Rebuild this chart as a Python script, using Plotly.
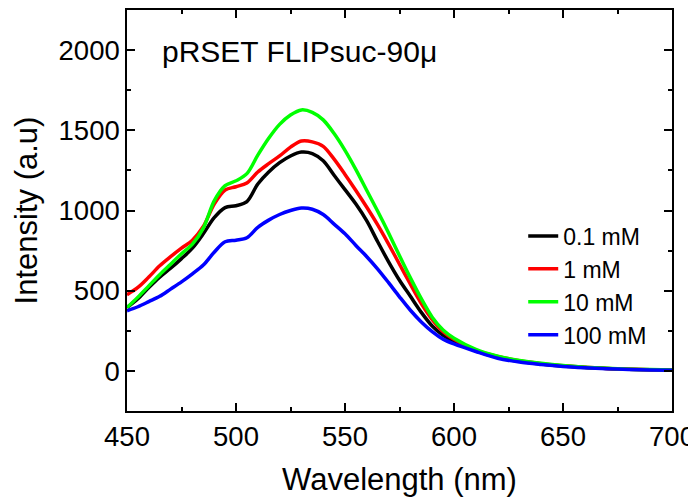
import plotly.graph_objects as go

wavelength = [450, 455, 460, 465, 470, 475, 480, 485, 490, 495, 500, 505, 510, 515, 520, 525, 530,
              535, 540, 545, 550, 555, 560, 565, 570, 575, 580, 585, 590, 595, 600,
              610, 620, 630, 640, 650, 660, 670, 680, 690, 700]

i_01mM = [395, 450, 520, 585, 640, 700, 765, 855, 955, 1018, 1030, 1055, 1165, 1240, 1298, 1340, 1364,
          1355, 1310, 1220, 1130, 1040, 935, 805, 680, 565, 465, 365, 280, 222, 183,
          125, 85, 60, 43, 30, 21, 15, 10, 7, 5]
i_1mM = [475, 520, 585, 655, 712, 765, 815, 900, 1040, 1128, 1148, 1172, 1240, 1292, 1340, 1395, 1433,
         1428, 1400, 1320, 1225, 1125, 1020, 910, 790, 665, 540, 420, 320, 245, 198,
         130, 90, 63, 45, 32, 22, 15, 10, 7, 5]
i_10mM = [395, 460, 530, 600, 665, 730, 790, 890, 1060, 1155, 1185, 1230, 1345, 1450, 1537, 1595, 1627,
          1612, 1565, 1480, 1375, 1255, 1125, 995, 860, 718, 580, 450, 335, 255, 204,
          135, 92, 65, 47, 33, 23, 16, 11, 8, 5]
i_100mM = [375, 400, 432, 465, 510, 555, 605, 660, 740, 805, 815, 830, 895, 940, 975, 1000, 1015,
           1008, 975, 915, 855, 782, 712, 635, 550, 462, 378, 305, 245, 198, 168,
           121, 79, 55, 40, 28, 20, 14, 9, 6, 4]

series_names = ["0.1 mM", "1 mM", "10 mM", "100 mM"]
series_values = [i_01mM, i_1mM, i_10mM, i_100mM]
series_colors = ["#000000", "#ff0000", "#00ff00", "#0000ff"]

title_text = "pRSET FLIPsuc-90μ"
x_ticks = [450, 500, 550, 600, 650, 700]
y_ticks = [0, 500, 1000, 1500, 2000]

fig = go.Figure()
for name, vals, col in zip(series_names, series_values, series_colors):
    fig.add_trace(go.Scatter(x=wavelength, y=vals, mode="lines", name=name,
                             line=dict(color=col, width=3.5, shape="spline", smoothing=0.9)))

font_family = "Liberation Sans, Arial, sans-serif"
axis_common = dict(showline=True, linecolor="black", linewidth=1.5, mirror="ticks",
                   ticks="inside", ticklen=8, tickwidth=1.5, tickcolor="black",
                   showgrid=False, zeroline=False, ticklabeloverflow="allow", automargin=False,
                   tickfont=dict(family=font_family, size=27.5, color="black"))

fig.update_layout(
    width=688, height=502,
    margin=dict(l=127, r=16, t=10, b=91, autoexpand=False),
    paper_bgcolor="white", plot_bgcolor="white",
    font=dict(family=font_family, color="black"),
    showlegend=True,
    legend=dict(x=0.727, y=0.49, xanchor="left", yanchor="top",
                font=dict(family=font_family, size=23, color="black"),
                bgcolor="rgba(0,0,0,0)", tracegroupgap=0),
    xaxis=dict(range=[450, 700], tickvals=x_ticks,
               minor=dict(ticks="inside", ticklen=4, tickwidth=1.5, tickcolor="black", dtick=25),
               title=dict(text="Wavelength (nm)", font=dict(family=font_family, size=31), standoff=18),
               **axis_common),
    yaxis=dict(range=[-250, 2250], tickvals=y_ticks,
               minor=dict(ticks="inside", ticklen=4, tickwidth=1.5, tickcolor="black", dtick=250),
               title=dict(text="Intensity (a.u)", font=dict(family=font_family, size=31), standoff=12),
               **axis_common),
    annotations=[dict(text=title_text, xref="paper", yref="paper", x=0.061, y=0.897,
                      xanchor="left", yanchor="middle", showarrow=False,
                      font=dict(family=font_family, size=30, color="black"))],
)

fig.write_html("out.html")
